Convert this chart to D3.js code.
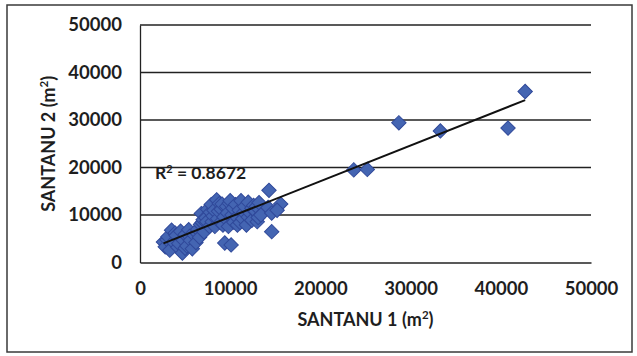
<!DOCTYPE html>
<html>
<head>
<meta charset="utf-8">
<script src="https://cdn.jsdelivr.net/npm/d3@7"></script>
<style>
  html, body { margin: 0; padding: 0; background: #fff; }
  svg { display: block; }
  text { font-family: Lato, "Open Sans", sans-serif; font-weight: bold; fill: #1e1e1e; }
</style>
</head>
<body>
<svg id="chart" width="637" height="356"></svg>
<script>
// Plot areas measured by two methods (m²)
const santanu1 = [
  2600, 2800, 3000, 3100, 3300, 3500, 3700, 3900, 4000, 4200, 4300, 4500, 4700, 4800, 5000, 5000, 5200, 5400,
  5500, 5600, 5800, 6000, 6200, 6300,
  6400, 6600, 6700, 6800, 6900, 7000, 7100, 7300, 7400, 7500, 7700, 7800, 7900, 8000, 8100, 8200, 8300, 8500,
  8600, 8700, 8800, 8900, 9000, 9100, 9200, 9300, 9400, 9600, 9700, 9800, 9900, 10000, 10100, 10200, 10300,
  10400, 10600, 10700, 10800, 11000, 11100, 11200, 11400, 11500, 11600, 11800, 12000, 12000, 12200, 12400,
  12400, 12600, 12800, 12900, 13000, 13100, 13200, 13400,
  14300, 14200, 14600, 15600, 15200, 14600,
  23700, 25200, 28700, 33300, 40800, 42700
];
const santanu2 = [
  4300, 3300, 4800, 5400, 2600, 6800, 4300, 6200, 5700, 3200, 4000, 6600, 2000, 4700, 5900, 3000, 3500, 6900,
  5500, 4700, 2900, 5800, 4200, 6200,
  7000, 5300, 8000, 10300, 8400, 9000, 6400, 9400, 8600, 11200, 7600, 10600, 12200, 8600, 9800, 11000, 7600, 13200,
  9200, 10800, 12400, 8400, 11200, 12300, 7900, 9600, 4100, 11800, 10400, 7600, 12500, 13000, 3700, 10000, 11400,
  8500, 12200, 9600, 7900, 11000, 8400, 13000, 9200, 10600, 11800, 7900, 12700, 9600, 10400, 8900,
  11400, 12000, 10800, 11800, 8600, 9500, 12600, 10000,
  15200, 11600, 10400, 12300, 11000, 6500,
  19500, 19600, 29400, 27700, 28300, 36000
];

// Linear trendline fitted to the paired measurements
const trendSlope = 0.752;
const trendIntercept = 2080;
const rSquaredLabel = "0.8672";

const xTicks = [0, 10000, 20000, 30000, 40000, 50000];
const yTicks = [0, 10000, 20000, 30000, 40000, 50000];
const xTitle = "SANTANU 1 (m";
const yTitle = "SANTANU 2 (m";

const svg = d3.select("#chart");

// outer chart border
svg.append("rect")
  .attr("x", 7).attr("y", 5).attr("width", 625).attr("height", 347)
  .attr("fill", "none").attr("stroke", "#3a3a3a").attr("stroke-width", 1.5);

const plot = { left: 140, right: 591, top: 25, bottom: 262.5 };

const x = d3.scaleLinear().domain([0, 50000]).range([plot.left, plot.right]);
const y = d3.scaleLinear().domain([0, 50000]).range([plot.bottom, plot.top]);

// horizontal gridlines
svg.append("g")
  .selectAll("line")
  .data(yTicks.filter(d => d > 0))
  .join("line")
  .attr("x1", plot.left).attr("x2", plot.right)
  .attr("y1", d => y(d)).attr("y2", d => y(d))
  .attr("stroke", "#222").attr("stroke-width", 1.3);

// y axis
const yAxis = svg.append("g")
  .attr("transform", `translate(${plot.left},0)`)
  .call(d3.axisLeft(y).tickValues(yTicks).tickFormat(d3.format("d")).tickSize(0).tickPadding(18));
yAxis.select(".domain").attr("stroke", "#222").attr("stroke-width", 1.3);
yAxis.selectAll("text").style("font-size", "18.5px").attr("fill", "#1e1e1e");

// x axis
const xAxis = svg.append("g")
  .attr("transform", `translate(0,${plot.bottom})`)
  .call(d3.axisBottom(x).tickValues(xTicks).tickFormat(d3.format("d")).tickSize(0).tickPadding(19));
xAxis.select(".domain").attr("stroke", "#222").attr("stroke-width", 1.3);
xAxis.selectAll("text").style("font-size", "18.5px").attr("fill", "#1e1e1e");

// axis titles
const xt = svg.append("text")
  .attr("x", (plot.left + plot.right) / 2).attr("y", 326)
  .attr("text-anchor", "middle").style("font-size", "18px");
xt.append("tspan").text(xTitle);
xt.append("tspan").attr("dy", -7).style("font-size", "11.5px").text("2");
xt.append("tspan").attr("dy", 7).text(")");

const yt = svg.append("text")
  .attr("transform", `translate(55,${(plot.top + plot.bottom) / 2}) rotate(-90)`)
  .attr("text-anchor", "middle").style("font-size", "18px");
yt.append("tspan").text(yTitle);
yt.append("tspan").attr("dy", -7).style("font-size", "11.5px").text("2");
yt.append("tspan").attr("dy", 7).text(")");

// scatter points as diamonds
const points = santanu1.map((v, i) => ({ a: v, b: santanu2[i] }));
const diamond = d3.symbol().type(d3.symbolSquare).size(104);
svg.append("g")
  .selectAll("path")
  .data(points)
  .join("path")
  .attr("d", diamond)
  .attr("transform", d => `translate(${x(d.a)},${y(d.b)}) rotate(45)`)
  .attr("fill", "#4465b2")
  .attr("stroke", "#30499a")
  .attr("stroke-width", 1);

// trendline over the data range
const xMin = d3.min(santanu1), xMax = d3.max(santanu1);
svg.append("line")
  .attr("x1", x(xMin)).attr("y1", y(trendSlope * xMin + trendIntercept))
  .attr("x2", x(xMax)).attr("y2", y(trendSlope * xMax + trendIntercept))
  .attr("stroke", "#111").attr("stroke-width", 2);

// R² annotation
const r2 = svg.append("text")
  .attr("x", 155).attr("y", 179)
  .style("font-size", "17.5px");
r2.append("tspan").text("R");
r2.append("tspan").attr("dy", -6).style("font-size", "11px").text("2");
r2.append("tspan").attr("dy", 6).text(" = " + rSquaredLabel);
</script>
</body>
</html>
